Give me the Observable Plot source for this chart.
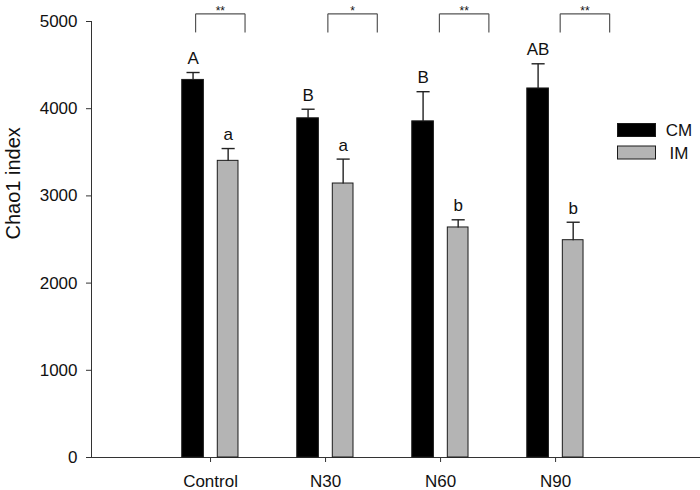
<!DOCTYPE html>
<html>
<head>
<meta charset="utf-8">
<script src="https://cdn.jsdelivr.net/npm/d3@7"></script>
<script src="https://cdn.jsdelivr.net/npm/@observablehq/plot@0.6"></script>
<style>
  html, body { margin: 0; padding: 0; background: #fff; }
  #chart svg { display: block; }
</style>
</head>
<body>
<div id="chart"></div>
<script>
// ---- data ----
const categories = ["Control", "N30", "N60", "N90"];
const series = ["CM", "IM"];
const cmMean = [4330, 3890, 3855, 4232];
const cmErr  = [85, 104, 340, 283];
const imMean = [3402, 3142, 2638, 2492];
const imErr  = [141, 280, 88, 206];
const cmLetters = ["A", "B", "B", "AB"];
const imLetters = ["a", "a", "b", "b"];
const significance = ["**", "*", "**", "**"];
const yTicks = [0, 1000, 2000, 3000, 4000, 5000];

// ---- layout constants ----
const FONT = "'Liberation Sans', Arial, Helvetica, sans-serif";
const W = 700, H = 490;
const mL = 91, mR = 0, mT = 21, mB = 33;
const xDomain = [-0.035, 5.26];
const barOffsets = {CM: [-0.246, -0.058], IM: [0.063, 0.243]};
const capHalf = 0.057;
const bracketShift = [-0.13, 0.02, -0.01, 0.04]; // bracket start relative to category
const bracketWidth = 0.43;
const bracketTop = 5088, bracketBottom = 4875;

// ---- build table ----
const rows = [];
categories.forEach((c, i) => {
  rows.push({cat: c, pos: i + 1, series: "CM", mean: cmMean[i], err: cmErr[i], letter: cmLetters[i]});
  rows.push({cat: c, pos: i + 1, series: "IM", mean: imMean[i], err: imErr[i], letter: imLetters[i]});
});
rows.forEach(d => {
  d.x1 = d.pos + barOffsets[d.series][0];
  d.x2 = d.pos + barOffsets[d.series][1];
  d.xc = (d.x1 + d.x2) / 2;
  d.top = d.mean + d.err;
});
const brackets = categories.map((c, i) => {
  const a = i + 1 + bracketShift[i];
  return {a, b: a + bracketWidth, mid: a + bracketWidth / 2, sig: significance[i]};
});

const fillColor = {CM: "#000000", IM: "#b4b4b4"};

const plot = Plot.plot({
  width: W, height: H,
  marginLeft: mL, marginRight: mR, marginTop: mT, marginBottom: mB,
  style: {fontFamily: FONT, background: "#fff", overflow: "visible"},
  x: {type: "linear", domain: xDomain},
  y: {domain: [0, 5000]},
  marks: [
    // axes
    Plot.axisY({ticks: yTicks, tickFormat: d3.format("d"), tickSize: 5, tickPadding: 9, fontSize: 17, label: null, stroke: "#333", color: "#111"}),
    Plot.axisX({ticks: [1, 2, 3, 4], tickFormat: d => categories[d - 1], tickSize: 5, tickPadding: 12, fontSize: 17, label: null, stroke: "#333", color: "#111"}),
    Plot.ruleY([0], {stroke: "#333", strokeWidth: 1}),
    Plot.ruleX([xDomain[0]], {stroke: "#333", strokeWidth: 1}),
    Plot.text(["Chao1 index"], {frameAnchor: "left", text: d => d, rotate: -90, dx: -78, fontSize: 20, fill: "#111"}),
    // bars
    Plot.rectY(rows, {x1: "x1", x2: "x2", y1: 0, y2: "mean", fill: d => fillColor[d.series], stroke: "#1a1a1a", strokeWidth: 1}),
    // error bars (upper only)
    Plot.link(rows, {x1: "xc", x2: "xc", y1: "mean", y2: "top", stroke: "#222", strokeWidth: 1.4}),
    Plot.link(rows, {x1: d => d.xc - capHalf, x2: d => d.xc + capHalf, y1: "top", y2: "top", stroke: "#222", strokeWidth: 1.4}),
    // letters
    Plot.text(rows, {x: "xc", y: "top", text: "letter", dy: -14, fontSize: 17, fill: "#111"}),
    // significance brackets
    Plot.link(brackets, {x1: "a", x2: "b", y1: bracketTop, y2: bracketTop, stroke: "#555", strokeWidth: 1.2}),
    Plot.link(brackets, {x1: "a", x2: "a", y1: bracketTop, y2: bracketBottom, stroke: "#555", strokeWidth: 1.2}),
    Plot.link(brackets, {x1: "b", x2: "b", y1: bracketTop, y2: bracketBottom, stroke: "#555", strokeWidth: 1.2}),
    Plot.text(brackets, {x: "mid", y: bracketTop, text: "sig", dy: -3, fontSize: 12, fill: "#111"})
  ]
});

// legend inside the plot area
const svg = d3.select(plot);
const lg = svg.append("g").attr("font-family", FONT);
series.forEach((s, i) => {
  const y0 = 123.5 + i * 22.5;
  lg.append("rect").attr("x", 617.5).attr("y", y0).attr("width", 38).attr("height", 13)
    .attr("fill", fillColor[s]).attr("stroke", "#1a1a1a").attr("stroke-width", 1);
  lg.append("text").attr("x", 679).attr("y", y0 + 6.8).attr("dy", "0.35em")
    .attr("text-anchor", "middle").attr("font-size", 17).attr("fill", "#111").text(s);
});

document.getElementById("chart").appendChild(plot);
</script>
</body>
</html>
